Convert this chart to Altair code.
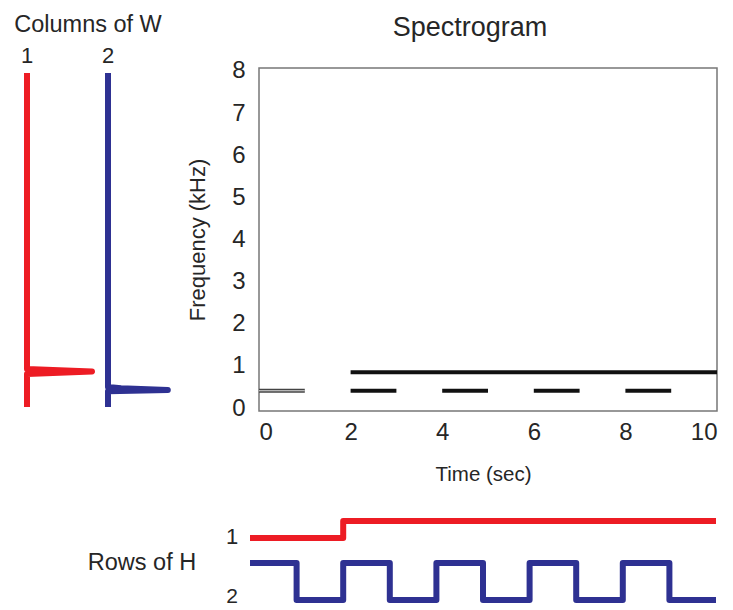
import altair as alt
import pandas as pd

FONT = "Liberation Sans"
TXT = "#262626"
RED = "#ED1C24"
BLUE = "#2E3192"

# ---- data -------------------------------------------------------------
# Columns of W (spectral profiles), sampled on a frequency grid (kHz)
w_freq = [0.0, 0.38, 0.41, 0.45, 0.48, 0.79, 0.85, 0.91, 8.0]
w_col1 = [0, 0, 0, 0, 0, 0, 1.0, 0, 0]
w_col2 = [0, 0, 0.92, 0.2, 0, 0, 0, 0, 0]

# Rows of H (activations over time, sec)
h_time = [0, 1, 2, 3, 4, 5, 6, 7, 8, 9, 10]
h_row1 = [0, 0, 0.46, 0.46, 0.46, 0.46, 0.46, 0.46, 0.46, 0.46, 0.46]
h_row2 = [1, 0, 1, 0, 1, 0, 1, 0, 1, 0, 0]

# Spectrogram segments
seg_start = [2, 2, 4, 6, 8]
seg_end = [10, 3, 5, 7, 9]
seg_freq = [0.85, 0.41, 0.41, 0.41, 0.41]
onset_start = [0]
onset_end = [1]
onset_freq = [0.41]

x_ticks = [0, 2, 4, 6, 8, 10]
y_ticks = [0, 1, 2, 3, 4, 5, 6, 7, 8]

# ---- layout (pixels) --------------------------------------------------
PL, PT, PW, PH = 259, 68, 458, 343

spec_df = pd.DataFrame({"t0": seg_start, "t1": seg_end, "f": seg_freq})
onset_df = pd.DataFrame({"t0": onset_start, "t1": onset_end, "f": onset_freq})
w_df = pd.DataFrame({"f": w_freq, "w1": w_col1, "w2": w_col2,
                     "k": list(range(len(w_freq)))})
h_df = pd.DataFrame({"t": h_time, "h1": h_row1, "h2": h_row2})

xs = alt.Scale(domain=[0, 10], nice=False, zero=False)
ys = alt.Scale(domain=[-0.07, 8.07], nice=False, zero=False)

spec = alt.Chart(spec_df).mark_rule(strokeWidth=4, color="#111111", strokeCap="butt").encode(
    x=alt.X("t0:Q", scale=xs,
            axis=alt.Axis(values=x_ticks, title="Time (sec)", labelPadding=9,
                          titlePadding=20, titleFontSize=20.5, titleX=483 - PL,
                          format="d")),
    x2="t1:Q",
    y=alt.Y("f:Q", scale=ys,
            axis=alt.Axis(values=y_ticks, title="Frequency (kHz)", labelPadding=14,
                          titlePadding=22, titleFontSize=22, format="d")),
)

onset_dark = alt.Chart(onset_df).mark_rule(strokeWidth=4, color="#444444", strokeCap="butt").encode(
    x=alt.X("t0:Q", scale=xs, axis=None), x2="t1:Q",
    y=alt.Y("f:Q", scale=ys, axis=None))
onset_light = alt.Chart(onset_df).mark_rule(strokeWidth=1.2, color="#dddddd", strokeCap="butt").encode(
    x=alt.X("t0:Q", scale=xs, axis=None), x2="t1:Q",
    y=alt.Y("f:Q", scale=ys, axis=None))

wy = alt.Scale(domain=[0, 8], range=[407 - PT, 73 - PT], nice=False, zero=False)


def w_line(field, color, x0):
    return alt.Chart(w_df).mark_line(color=color, strokeWidth=6, strokeJoin="round",
                                     strokeCap="butt").encode(
        x=alt.X(f"{field}:Q", scale=alt.Scale(domain=[0, 1], range=[x0 - PL, x0 + 65 - PL],
                                             nice=False, zero=False), axis=None),
        y=alt.Y("f:Q", scale=wy, axis=None),
        order=alt.Order("k:Q"),
    )


w1 = w_line("w1", RED, 27)
w2 = w_line("w2", BLUE, 108)

hx = alt.Scale(domain=[0, 10], range=[250 - PL, 716 - PL], nice=False, zero=False)


def h_line(field, color, base):
    return alt.Chart(h_df).mark_line(color=color, strokeWidth=6, interpolate="step-after",
                                     strokeJoin="round", strokeCap="butt").encode(
        x=alt.X("t:Q", scale=hx, axis=None),
        y=alt.Y(f"{field}:Q", scale=alt.Scale(domain=[0, 1], range=[base - PT, base - 37 - PT],
                                             nice=False, zero=False), axis=None),
    )


h1 = h_line("h1", RED, 538)
h2 = h_line("h2", BLUE, 600)


def label(text, x, y, size):
    return alt.Chart(pd.DataFrame({"s": [text]})).mark_text(
        font=FONT, fontSize=size, color=TXT, align="center", baseline="middle"
    ).encode(x=alt.value(x - PL), y=alt.value(y - PT), text="s:N")


texts = [
    label("Columns of W", 88, 25, 23.5),
    label("1", 27, 56, 22),
    label("2", 108, 56, 22),
    label("Spectrogram", 470, 28, 27),
    label("Rows of H", 142, 563, 23.5),
    label("1", 232, 537, 22),
    label("2", 232, 597, 21),
]

chart = alt.layer(spec, onset_dark, onset_light, w1, w2, h1, h2, *texts).resolve_scale(
    x="independent", y="independent"
).properties(
    width=PW, height=PH,
    autosize=alt.AutoSizeParams(type="none"),
    padding={"left": PL, "top": PT, "right": 733 - PL - PW, "bottom": 610 - PT - PH},
).configure_view(
    stroke="#777777", strokeWidth=1.5
).configure_axis(
    labelFont=FONT, labelFontSize=24, labelColor=TXT,
    titleFont=FONT, titleColor=TXT, titleFontWeight="normal",
    ticks=False, domain=False, grid=False,
)

chart.save("out.html", embed_options={"renderer": "svg", "actions": False})
